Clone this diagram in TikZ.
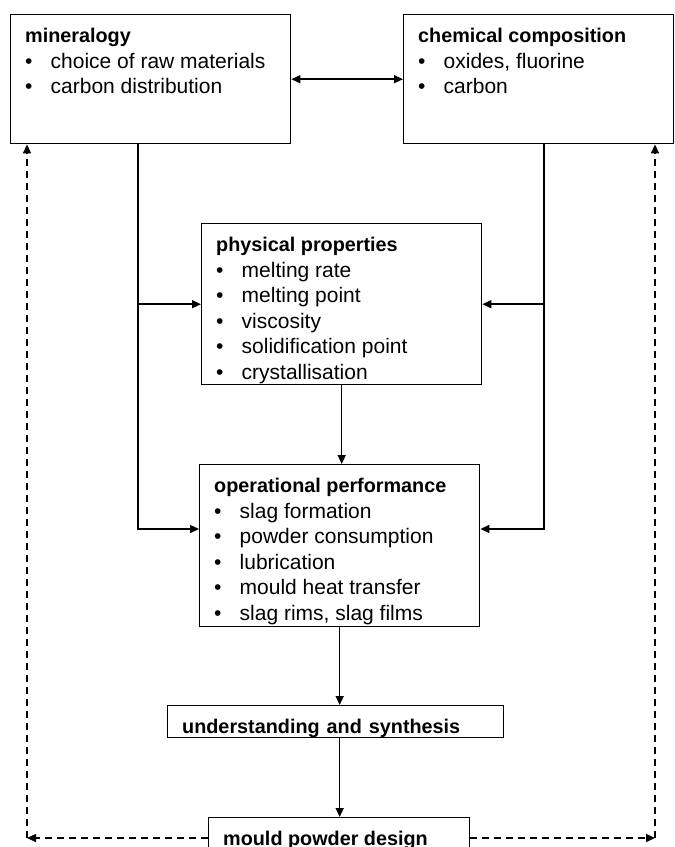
\documentclass[tikz,border=0pt]{standalone}
\usepackage{fontspec}
\setmainfont{Liberation Sans}
\usetikzlibrary{arrows.meta}
\newcommand{\bul}{\makebox[25.5pt][l]{\textbullet}}
\newcommand{\hd}[1]{{\fontsize{19.8}{25.5}\selectfont\bfseries #1}}
\newcommand{\boxtext}[3]{\parbox[t][#1][t]{#2}{\strut#3}}
\begin{document}
\begin{tikzpicture}[x=1pt, y=-1pt, >={Triangle[length=9pt,width=8pt]},
  every node/.style={draw, line width=1.4pt, anchor=north west, inner xsep=14.5pt, inner ysep=10pt, font=\fontsize{21}{25.5}\selectfont},
  conn/.style={line width=1.5pt},
  dashline/.style={line width=1.4pt, dash pattern=on 7pt off 5pt}]
\useasboundingbox (0,0) rectangle (675,847);
\node (Min) at (10,14) {\boxtext{109pt}{251pt}{\hd{mineralogy}\\\bul choice of raw materials\\\bul carbon distribution}};
\node (Chem) at (403,14) {\boxtext{109pt}{241pt}{\hd{chemical composition}\\\bul oxides, fluorine\\\bul carbon}};
\node (Phys) at (201,223) {\boxtext{141pt}{251pt}{\hd{physical properties}\\\bul melting rate\\\bul melting point\\\bul viscosity\\\bul solidification point\\\bul crystallisation}};
\node (Oper) at (199,464) {\boxtext{142pt}{251pt}{\hd{operational performance}\\\bul slag formation\\\bul powder consumption\\\bul lubrication\\\bul mould heat transfer\\\bul slag rims, slag films}};
\node[inner ysep=2pt, text height=26pt, text depth=2pt, text width=307pt] (Und) at (167,705) {\hd{understanding and synthesis}};
\node (Des) at (208,817) {\boxtext{30pt}{232pt}{\hd{mould powder design}}};
\coordinate (MinJ) at (138,529);
\coordinate (ChemJ) at (544,529);
\coordinate (DesL) at (27,838);
\coordinate (DesR) at (655,838);
\draw[conn, <->] (Min.east) -- (Chem.west);
\draw[conn, ->] (Min.south -| MinJ) -- (MinJ) -- (Oper.west |- MinJ);
\draw[conn, ->] (Phys.west -| MinJ) -- (Phys.west);
\draw[conn, ->] (Chem.south -| ChemJ) -- (ChemJ) -- (Oper.east |- ChemJ);
\draw[conn, ->] (Phys.east -| ChemJ) -- (Phys.east);
\draw[conn, ->] (Phys.south) -- (Phys.south |- Oper.north);
\draw[conn, ->] (Oper.south) -- (Oper.south |- Und.north);
\draw[conn, ->] (Oper.south |- Und.south) -- (Oper.south |- Des.north);
\draw[dashline, ->] (Des.west |- DesL) -- (DesL);
\draw[dashline, ->] (DesL) -- (Min.south -| DesL);
\draw[dashline, ->] (Des.east |- DesR) -- (DesR);
\draw[dashline, ->] (DesR) -- (Chem.south -| DesR);
\end{tikzpicture}
\end{document}
